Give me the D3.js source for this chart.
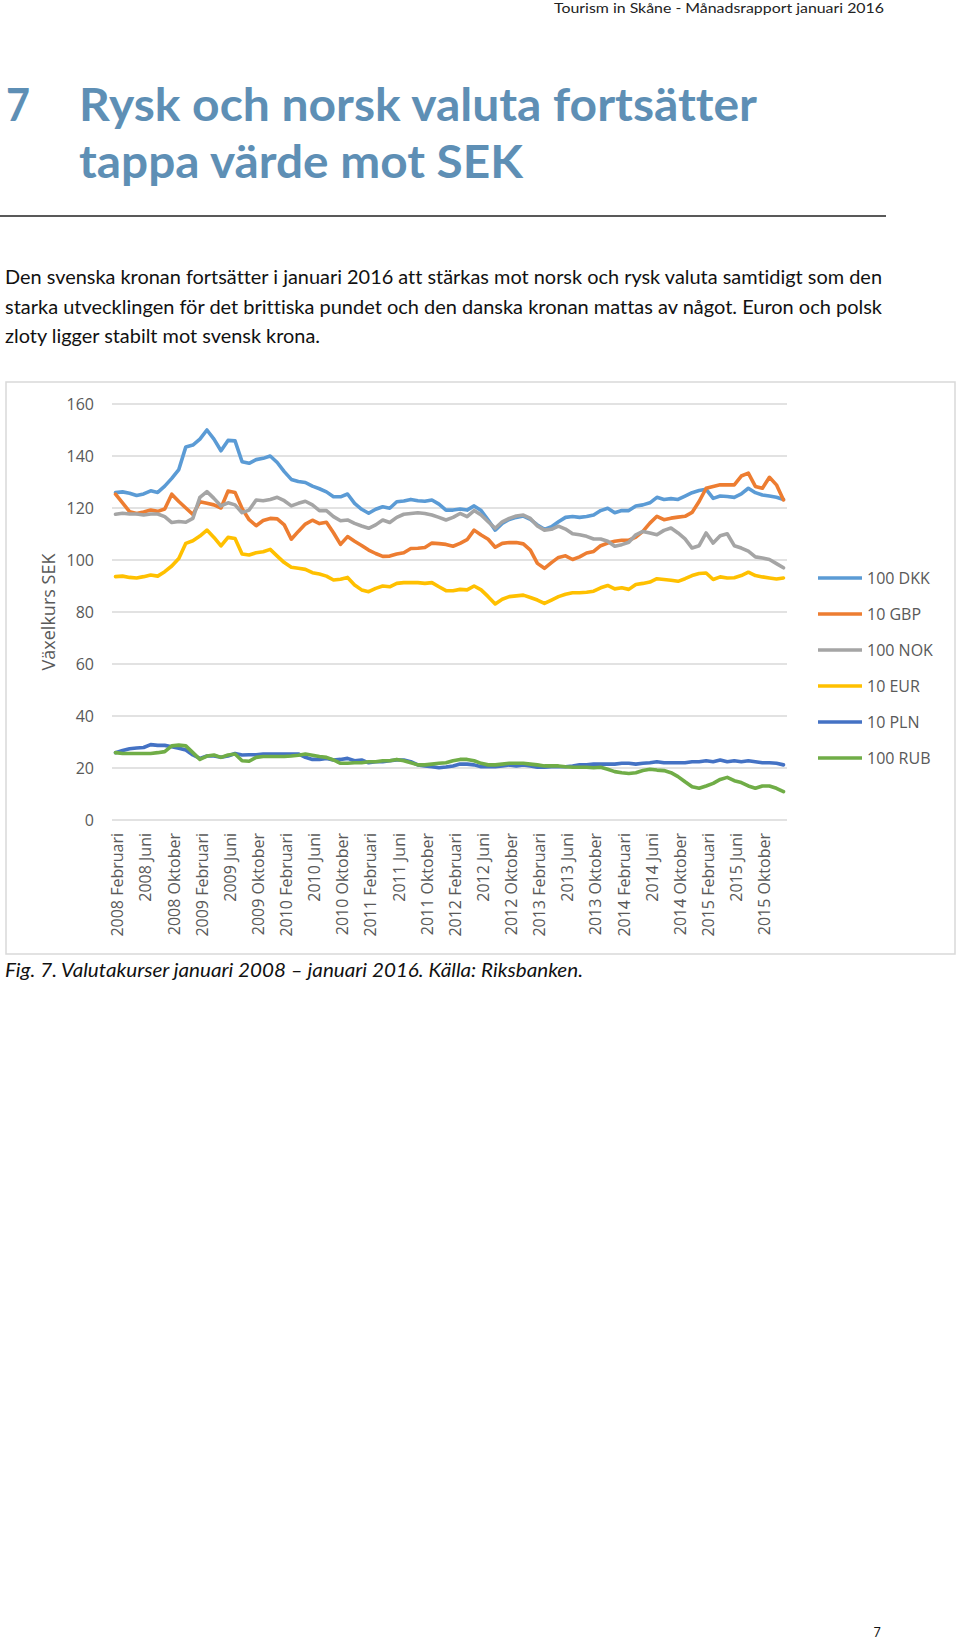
<!DOCTYPE html>
<html>
<head>
<meta charset="utf-8">
<script src="https://cdn.jsdelivr.net/npm/d3@7"></script>
<style>
  html, body { margin: 0; padding: 0; background: #fff; }
  svg { display: block; }
  text { font-variant-ligatures: none; font-feature-settings: "liga" 0, "clig" 0; }
</style>
</head>
<body>
<svg id="page" width="960" height="1640"></svg>
<script>
// ---------- DATA ----------
const monthNames = ["Januari","Februari","Mars","April","Maj","Juni","Juli","Augusti","September","Oktober","November","December"];
const startYear = 2008, startMonth = 1; // February 2008 (0-based month index)
const nMonths = 96; // Feb 2008 – Jan 2016
const categories = [];
for (let k = 0; k < nMonths; k++) {
  const m = (startMonth + k) % 12, y = startYear + Math.floor((startMonth + k) / 12);
  categories.push(y + " " + monthNames[m]);
}
const yTicks = [0, 20, 40, 60, 80, 100, 120, 140, 160];
const seriesNames = ["100 DKK", "10 GBP", "100 NOK", "10 EUR", "10 PLN", "100 RUB"];
const seriesColors = ["#5B9BD5", "#ED7D31", "#A5A5A5", "#FFC000", "#4472C4", "#70AD47"];

const dkk = [125.9,126.2,125.7,124.8,125.4,126.6,126.0,128.4,131.4,134.8,143.5,144.2,146.5,150.0,146.5,142.0,146.0,145.8,137.8,137.2,
  138.6,139.1,140.0,137.5,134.0,131.0,130.2,129.8,128.4,127.4,126.2,124.3,124.3,125.4,121.8,119.5,118.0,119.5,120.5,119.9,
  122.4,122.7,123.3,122.8,122.6,123.1,121.5,119.2,119.2,119.6,119.2,120.8,119.0,115.4,111.5,114.1,115.6,116.4,116.9,115.6,
  113.5,111.8,112.8,114.7,116.4,116.7,116.4,116.7,117.3,119.0,119.9,118.2,119.0,119.0,120.8,121.2,122.0,124.1,123.3,123.6,
  123.3,124.6,125.9,126.7,127.2,123.7,124.6,124.4,124.1,125.4,127.6,125.9,125.0,124.6,124.1,123.3];
const gbp = [125.3,122.0,118.6,117.9,118.5,119.2,118.7,119.6,125.3,122.5,120.0,117.5,122.4,121.8,121.2,120.0,126.5,126.0,119.8,115.5,
  113.2,115.2,116.0,115.8,113.5,108.0,111.0,113.8,115.3,114.0,114.5,110.5,106.0,109.0,107.2,105.6,103.8,102.5,101.4,101.5,
  102.3,102.8,104.4,104.5,104.8,106.5,106.3,106.0,105.3,106.4,107.8,111.5,109.6,108.0,104.9,106.4,106.7,106.7,106.2,103.8,
  98.7,96.8,99.0,101.0,101.6,100.2,101.2,102.7,103.3,105.5,106.5,107.2,107.6,107.6,108.8,111.0,114.2,116.8,115.5,116.1,
  116.5,116.8,118.3,122.5,127.6,128.3,128.9,128.9,128.9,132.3,133.4,128.3,127.6,131.8,128.9,123.1];
const nok = [117.6,118.0,117.7,117.7,117.3,117.7,117.7,116.7,114.4,114.8,114.5,116.0,124.1,126.3,123.7,120.8,122.0,121.2,118.2,119.2,
  123.1,122.8,123.3,124.1,122.8,120.8,121.8,122.6,121.2,119.0,119.0,116.7,115.1,115.4,114.1,113.1,112.2,113.5,115.4,114.4,
  116.4,117.6,117.9,118.2,117.9,117.3,116.4,115.4,116.4,117.9,116.7,119.0,117.3,114.7,112.2,114.7,116.0,116.9,117.3,116.0,
  113.1,111.5,111.8,113.0,111.9,110.1,109.7,109.1,108.1,108.1,107.2,105.3,105.9,106.8,109.7,111.0,110.4,109.7,111.4,112.3,
  110.4,108.1,104.6,105.5,110.4,106.5,109.3,110.1,105.5,104.6,103.4,101.2,100.8,100.2,98.6,97.0];
const eur = [93.6,93.8,93.3,93.1,93.6,94.2,93.8,95.5,97.7,100.6,106.4,107.4,109.2,111.5,108.7,105.4,108.7,108.3,102.3,101.9,
  102.8,103.2,104.1,101.5,99.0,97.2,96.8,96.4,95.1,94.6,93.8,92.3,92.6,93.3,90.4,88.5,87.8,89.1,90.0,89.7,
  91.0,91.3,91.3,91.3,91.0,91.3,89.7,88.2,88.2,88.7,88.5,90.0,88.5,85.9,83.1,84.9,85.9,86.2,86.5,85.6,
  84.6,83.3,84.6,85.9,86.8,87.4,87.4,87.6,88.0,89.3,90.2,88.9,89.3,88.7,90.6,91.0,91.5,92.8,92.5,92.2,
  91.8,92.8,94.0,94.8,95.0,92.5,93.5,93.1,93.2,94.0,95.3,94.0,93.5,93.1,92.7,93.1];
const pln = [25.9,26.7,27.4,27.7,27.9,29.0,28.7,28.7,28.2,27.6,26.9,25.0,23.7,24.6,24.6,24.1,24.6,25.6,25.0,25.1,
  25.1,25.4,25.4,25.4,25.4,25.4,25.4,24.1,23.3,23.3,23.7,23.1,23.3,23.7,22.8,23.1,22.0,22.4,22.4,22.8,
  23.1,23.1,22.4,21.2,20.8,20.5,20.1,20.4,20.8,21.5,21.5,21.2,20.5,20.5,20.5,20.8,21.2,20.8,21.2,20.8,
  20.3,20.3,20.5,20.5,20.5,20.8,21.2,21.2,21.5,21.5,21.5,21.5,21.8,21.8,21.5,21.8,22.0,22.4,22.0,22.0,
  22.0,22.0,22.4,22.4,22.8,22.4,23.1,22.4,22.8,22.4,22.8,22.4,22.0,22.0,21.8,21.2];
const rub = [25.9,25.6,25.6,25.6,25.6,25.6,25.9,26.3,28.5,28.8,28.5,25.9,23.3,24.6,25.0,24.1,25.0,25.4,22.8,22.6,
  24.1,24.4,24.4,24.4,24.4,24.6,24.9,25.4,24.9,24.4,24.1,23.1,21.8,21.8,22.0,22.0,22.4,22.4,22.8,22.8,
  23.3,22.8,22.0,21.2,21.2,21.5,21.8,22.0,22.8,23.3,23.3,22.8,21.8,21.2,21.2,21.5,21.8,21.8,21.8,21.5,
  21.2,20.8,20.8,20.8,20.5,20.3,20.3,20.3,20.1,20.3,19.5,18.6,18.2,17.9,18.2,19.0,19.5,19.2,19.0,18.2,
  16.7,14.7,12.8,12.2,13.1,14.1,15.6,16.4,15.1,14.4,13.1,12.2,13.1,13.1,12.2,10.9];
const seriesValues = [dkk, gbp, nok, eur, pln, rub];

// ---------- PAGE ----------
const svg = d3.select("#page");
svg.append("rect").attr("width", 960).attr("height", 1640).attr("fill", "#fff");

const textFont = "Lato, 'Open Sans', sans-serif";
const chartFont = "'Open Sans', 'Noto Sans', sans-serif";

svg.append("text").attr("x", 554).attr("y", 13)
  .attr("font-family", textFont).attr("font-size", 14).attr("fill", "#222")
  .attr("textLength", 330).attr("lengthAdjust", "spacingAndGlyphs")
  .text("Tourism in Skåne - Månadsrapport januari 2016");

const titleColor = "#5E8FB5";
svg.append("text").attr("x", 6).attr("y", 121)
  .attr("font-family", textFont).attr("font-weight", 700).attr("font-size", 46).attr("fill", titleColor)
  .attr("textLength", 24).attr("lengthAdjust", "spacingAndGlyphs").text("7");
svg.append("text").attr("x", 79).attr("y", 121)
  .attr("font-family", textFont).attr("font-weight", 700).attr("font-size", 46).attr("fill", titleColor)
  .attr("textLength", 678).attr("lengthAdjust", "spacingAndGlyphs").text("Rysk och norsk valuta fortsätter");
svg.append("text").attr("x", 79).attr("y", 178)
  .attr("font-family", textFont).attr("font-weight", 700).attr("font-size", 46).attr("fill", titleColor)
  .attr("textLength", 444).attr("lengthAdjust", "spacingAndGlyphs").text("tappa värde mot SEK");

svg.append("line").attr("x1", 0).attr("x2", 886).attr("y1", 216).attr("y2", 216)
  .attr("stroke", "#595959").attr("stroke-width", 2);

const bodyLines = [
  {t: "Den svenska kronan fortsätter i januari 2016 att stärkas mot norsk och rysk valuta samtidigt som den", w: 877, y: 284},
  {t: "starka utvecklingen för det brittiska pundet och den danska kronan mattas av något. Euron och polsk", w: 877, y: 314},
  {t: "zloty ligger stabilt mot svensk krona.", w: 315, y: 343}
];
bodyLines.forEach(l => {
  svg.append("text").attr("x", 5).attr("y", l.y)
    .attr("font-family", textFont).attr("font-size", 18.5).attr("fill", "#111")
    .attr("textLength", l.w).attr("lengthAdjust", "spacingAndGlyphs").text(l.t);
});

// ---------- CHART ----------
svg.append("rect").attr("x", 6).attr("y", 382).attr("width", 949).attr("height", 572)
  .attr("fill", "#fff").attr("stroke", "#D9D9D9").attr("stroke-width", 1.5);

const x = d3.scalePoint().domain(categories).range([112, 787]).padding(0.5);
const y = d3.scaleLinear().domain([0, 160]).range([820, 404]);

const g = svg.append("g");
g.selectAll("line.grid").data(yTicks).join("line")
  .attr("x1", 112).attr("x2", 787)
  .attr("y1", d => y(d)).attr("y2", d => y(d))
  .attr("stroke", "#D9D9D9").attr("stroke-width", 1.3);

g.selectAll("text.ytick").data(yTicks).join("text")
  .attr("x", 94).attr("y", d => y(d)).attr("dy", "0.35em")
  .attr("text-anchor", "end").attr("font-family", chartFont).attr("font-size", 16)
  .attr("fill", "#595959").text(d => d);

g.append("text").attr("transform", "translate(55,612) rotate(-90)")
  .attr("text-anchor", "middle").attr("font-family", chartFont).attr("font-size", 18)
  .attr("fill", "#595959").text("Växelkurs SEK");

const shown = categories.filter((c, i) => i % 4 === 0);
g.selectAll("text.xtick").data(shown).join("text")
  .attr("transform", d => `translate(${x(d)},833) rotate(-90)`)
  .attr("dy", 7.8).attr("text-anchor", "end")
  .attr("font-family", chartFont).attr("font-size", 16).attr("fill", "#595959")
  .text(d => d);

const line = d3.line().x((d, i) => x(categories[i])).y(d => y(d));
seriesValues.forEach((vals, s) => {
  g.append("path").datum(vals).attr("d", line)
    .attr("fill", "none").attr("stroke", seriesColors[s]).attr("stroke-width", 3.6)
    .attr("stroke-linejoin", "round").attr("stroke-linecap", "round");
});

// legend
const leg = g.selectAll("g.leg").data(seriesNames).join("g")
  .attr("transform", (d, i) => `translate(818,${578 + i * 36})`);
leg.append("line").attr("x1", 0).attr("x2", 44).attr("y1", 0).attr("y2", 0)
  .attr("stroke", (d, i) => seriesColors[i]).attr("stroke-width", 3.6);
leg.append("text").attr("x", 49).attr("dy", "0.35em")
  .attr("font-family", chartFont).attr("font-size", 16).attr("fill", "#595959").text(d => d);

// caption & page number
svg.append("text").attr("x", 5).attr("y", 977)
  .attr("font-family", textFont).attr("font-style", "italic").attr("font-size", 19).attr("fill", "#111")
  .attr("textLength", 578).attr("lengthAdjust", "spacingAndGlyphs")
  .text("Fig. 7. Valutakurser januari 2008 – januari 2016. Källa: Riksbanken.");
svg.append("text").attr("x", 877).attr("y", 1637).attr("text-anchor", "middle")
  .attr("font-family", textFont).attr("font-size", 12.5).attr("fill", "#111").text("7");
</script>
</body>
</html>
